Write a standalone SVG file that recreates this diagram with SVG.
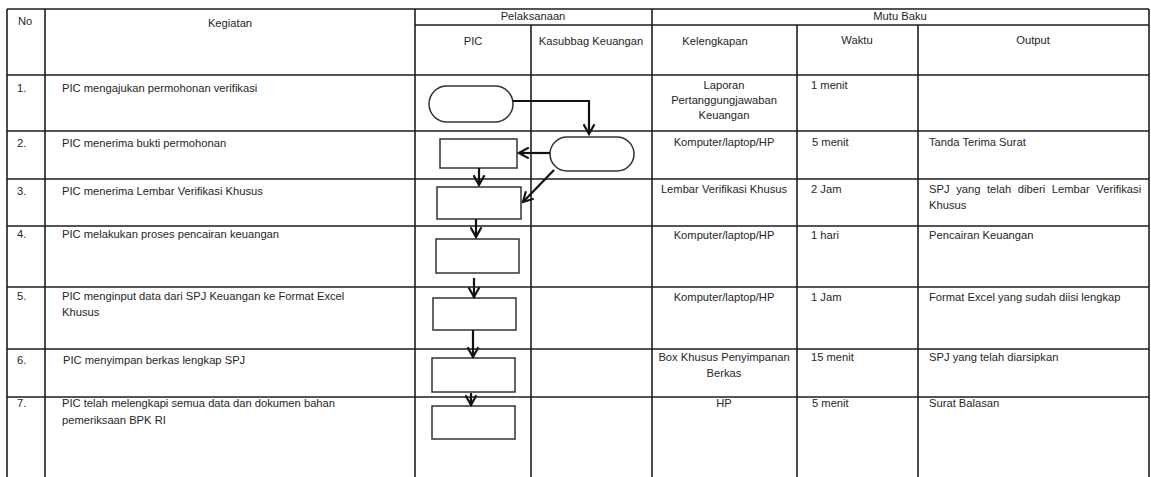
<svg xmlns="http://www.w3.org/2000/svg" width="1151" height="477" viewBox="0 0 1151 477">
<defs>
<style>
.g{stroke:#1e1e1e;stroke-width:1.6;fill:none}
.t{font-family:"Liberation Sans",Arial,sans-serif;font-size:11.2px;fill:#262626}
.c{text-anchor:middle}
.n{fill:#fff;stroke:#333;stroke-width:1.5}
.e{stroke:#111;stroke-width:2.2;fill:none}
</style>
<marker id="ah" viewBox="0 0 12 12" refX="10" refY="6" markerWidth="13" markerHeight="13" markerUnits="userSpaceOnUse" orient="auto">
<path d="M1,1 L10,6 L1,11" fill="none" stroke="#111" stroke-width="2"/>
</marker>
</defs>
<rect width="1151" height="477" fill="#fff"/>
<g id="grid">
<path class="g" d="M7,9 H1149 M415,25 H1149 M7,75 H1149 M7,131 H1149 M7,179 H1149 M7,226 H1149 M7,287 H1149 M7,349 H1149 M7,397 H1149"/>
<path class="g" d="M7,9 V477 M45,9 V477 M415,9 V477 M531,25 V477 M652,9 V477 M797,25 V477 M918,25 V477 M1149,9 V477"/>
</g>
<g id="headers" class="t">
<text x="18" y="25">No</text>
<text class="c" x="230" y="27">Kegiatan</text>
<text class="c" x="533" y="20">Pelaksanaan</text>
<text class="c" x="473" y="45">PIC</text>
<text class="c" x="591" y="45">Kasubbag Keuangan</text>
<text class="c" x="715" y="45">Kelengkapan</text>
<text class="c" x="900" y="20">Mutu Baku</text>
<text class="c" x="857" y="44">Waktu</text>
<text class="c" x="1033" y="44">Output</text>
</g>
<g id="col-no" class="t">
<text x="17" y="92">1.</text>
<text x="17" y="147">2.</text>
<text x="17" y="195">3.</text>
<text x="17" y="238">4.</text>
<text x="17" y="300">5.</text>
<text x="17" y="364">6.</text>
<text x="17" y="407">7.</text>
</g>
<g id="col-kegiatan" class="t">
<text x="62" y="92">PIC mengajukan permohonan verifikasi</text>
<text x="62" y="147">PIC menerima bukti permohonan</text>
<text x="62" y="195">PIC menerima Lembar Verifikasi Khusus</text>
<text x="62" y="238">PIC melakukan proses pencairan keuangan</text>
<text x="62" y="300">PIC menginput data dari SPJ Keuangan ke Format Excel</text>
<text x="62" y="316">Khusus</text>
<text x="63" y="364">PIC menyimpan berkas lengkap SPJ</text>
<text x="62" y="407">PIC telah melengkapi semua data dan dokumen bahan</text>
<text x="62" y="424">pemeriksaan BPK RI</text>
</g>
<g id="col-kelengkapan" class="t c">
<text x="724" y="89">Laporan</text>
<text x="724" y="104">Pertanggungjawaban</text>
<text x="724" y="119">Keuangan</text>
<text x="724" y="146">Komputer/laptop/HP</text>
<text x="724" y="193">Lembar Verifikasi Khusus</text>
<text x="724" y="239">Komputer/laptop/HP</text>
<text x="724" y="301">Komputer/laptop/HP</text>
<text x="724" y="361">Box Khusus Penyimpanan</text>
<text x="724" y="377">Berkas</text>
<text x="724" y="407">HP</text>
</g>
<g id="col-waktu" class="t">
<text x="811" y="89">1 menit</text>
<text x="812" y="146">5 menit</text>
<text x="811" y="193">2 Jam</text>
<text x="811" y="239">1 hari</text>
<text x="811" y="301">1 Jam</text>
<text x="811" y="361">15 menit</text>
<text x="812" y="407">5 menit</text>
</g>
<g id="col-output" class="t">
<text x="929" y="146">Tanda Terima Surat</text>
<text x="929" y="193" word-spacing="3.5">SPJ yang telah diberi Lembar Verifikasi</text>
<text x="929" y="209">Khusus</text>
<text x="929" y="239">Pencairan Keuangan</text>
<text x="929" y="301">Format Excel yang sudah diisi lengkap</text>
<text x="929" y="361">SPJ yang telah diarsipkan</text>
<text x="929" y="407">Surat Balasan</text>
</g>
<g id="node-start-pic"><rect class="n" x="429" y="86" width="84" height="36" rx="18"/></g>
<g id="node-kasubbag"><rect class="n" x="550" y="137" width="84" height="34" rx="17"/></g>
<g id="node-step2"><rect class="n" x="440" y="139" width="77" height="29"/></g>
<g id="node-step3"><rect class="n" x="437" y="187" width="84" height="32"/></g>
<g id="node-step4"><rect class="n" x="436" y="239" width="83" height="34"/></g>
<g id="node-step5"><rect class="n" x="433" y="298" width="83" height="32"/></g>
<g id="node-step6"><rect class="n" x="432" y="358" width="83" height="34"/></g>
<g id="node-step7"><rect class="n" x="432" y="406" width="83" height="33"/></g>
<g id="connectors">
<path class="e" d="M513,101 H589 V134" marker-end="url(#ah)"/>
<path class="e" d="M550,153 H519" marker-end="url(#ah)"/>
<path class="e" d="M479,168 V185" marker-end="url(#ah)"/>
<path class="e" d="M554,170 L523,202" marker-end="url(#ah)"/>
<path class="e" d="M476,219 V237" marker-end="url(#ah)"/>
<path class="e" d="M474,278 V297" marker-end="url(#ah)"/>
<path class="e" d="M473,330 V357" marker-end="url(#ah)"/>
<path class="e" d="M471,393 V405" marker-end="url(#ah)"/>
</g>
</svg>
